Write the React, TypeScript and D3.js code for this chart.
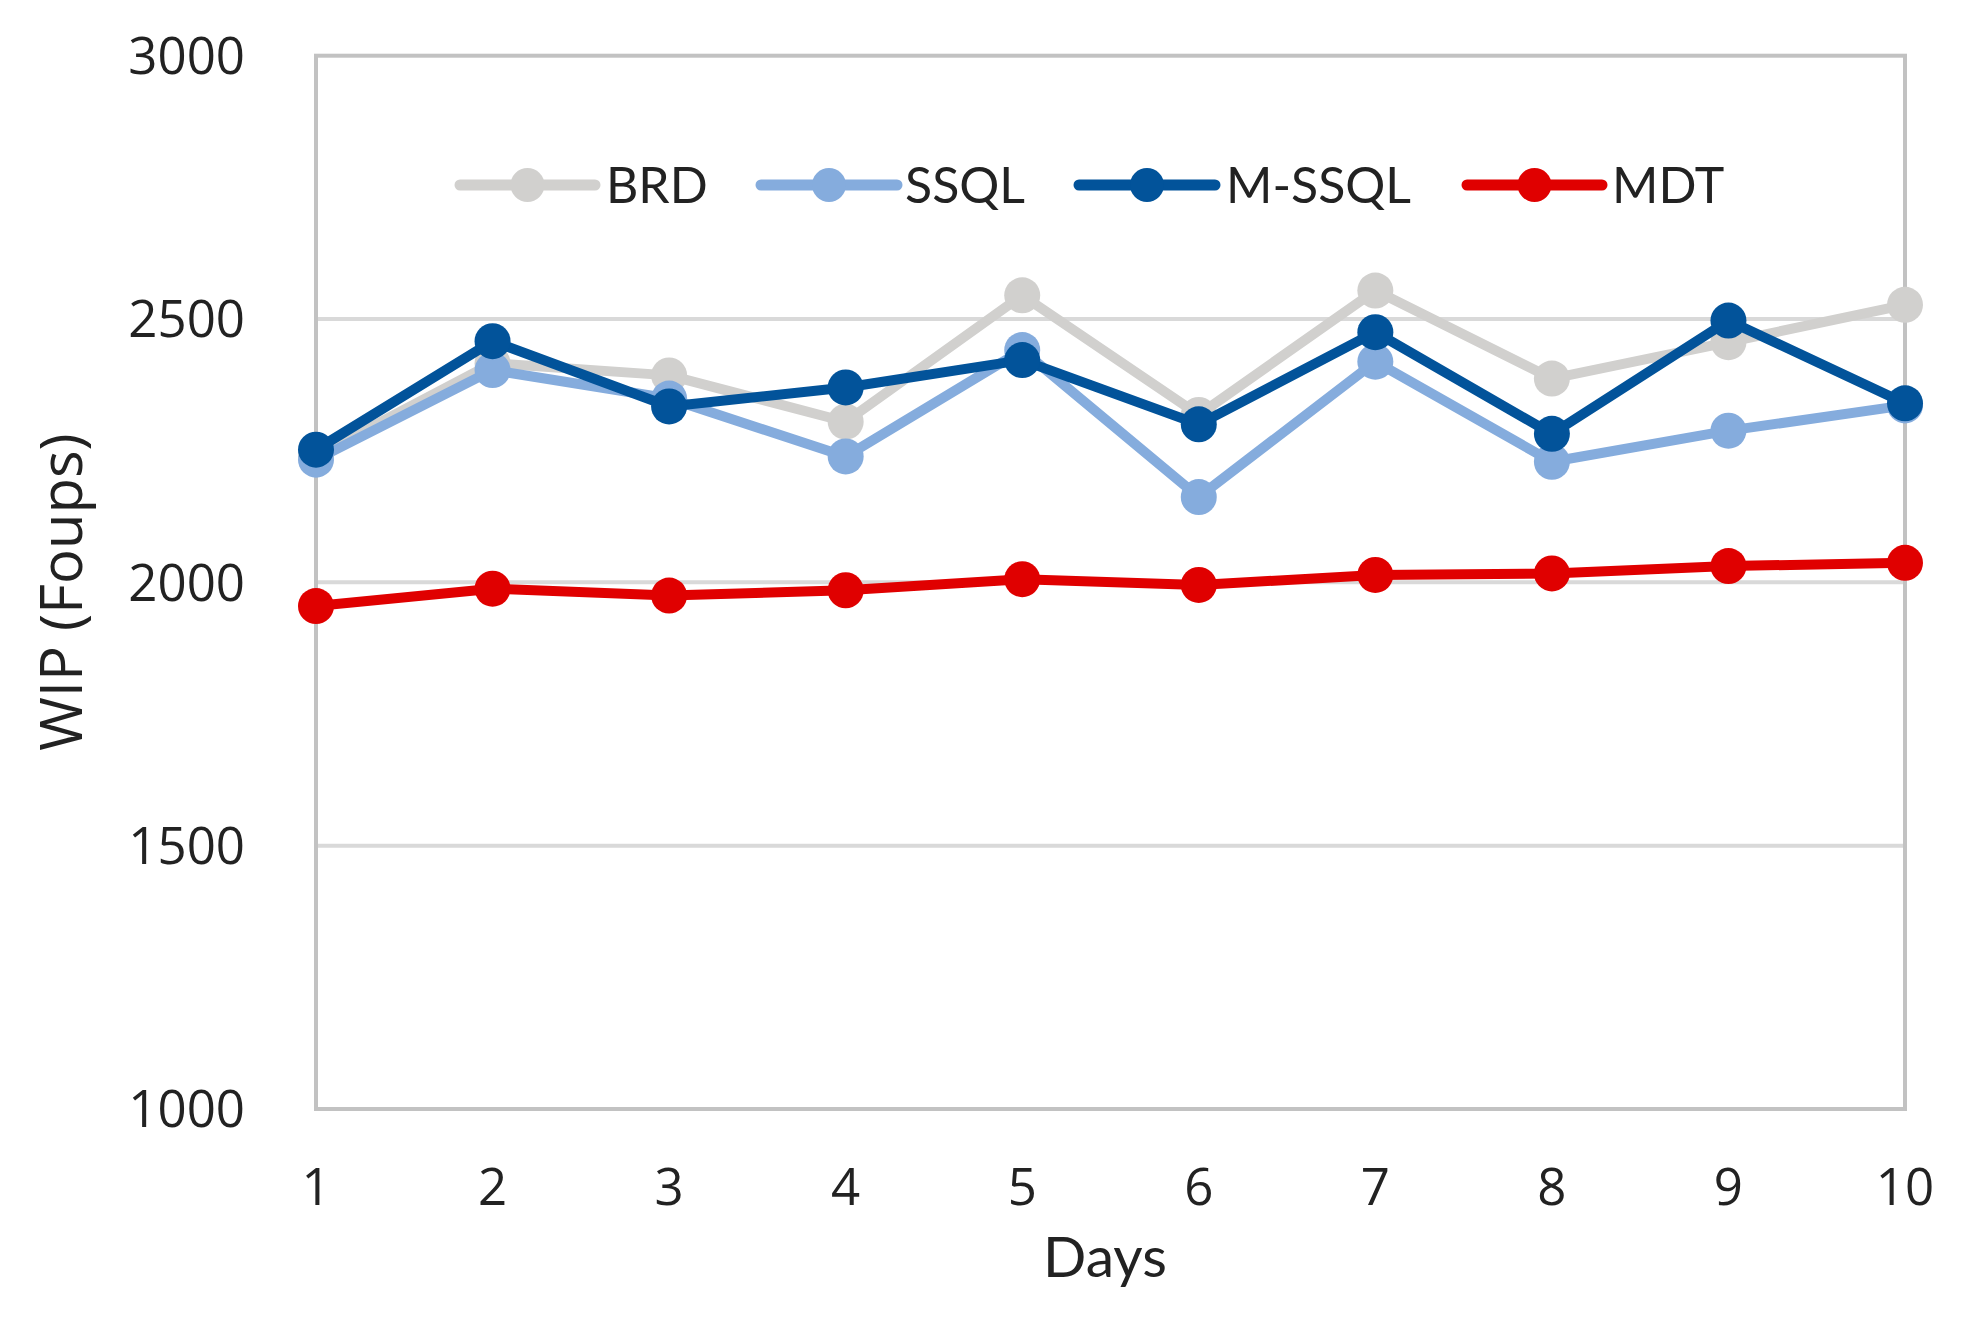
import React from "react";
import * as d3 from "d3";

const days = [1, 2, 3, 4, 5, 6, 7, 8, 9, 10];
const brd = [2240, 2416, 2393, 2305, 2545, 2318, 2554, 2387, 2456, 2527];
const ssql = [2233, 2403, 2349, 2239, 2441, 2162, 2419, 2229, 2288, 2336];
const mssql = [2252, 2458, 2334, 2370, 2422, 2300, 2475, 2282, 2497, 2340];
const mdt = [1955, 1988, 1975, 1985, 2006, 1995, 2014, 2017, 2031, 2037];
const yTicks = [1000, 1500, 2000, 2500, 3000];
const seriesNames = ["BRD", "SSQL", "M-SSQL", "MDT"];
const seriesColors = ["#d1d0ce", "#85acdd", "#02539a", "#e00000"];

const W = 1961;
const H = 1318;
const left = 316;
const right = 1905;
const top = 55.7;
const bottom = 1109;

export default function App() {
  const x = d3.scaleLinear().domain([1, 10]).range([left, right]);
  const y = d3.scaleLinear().domain([1000, 3000]).range([bottom, top]);
  const series = [brd, ssql, mssql, mdt];
  const line = d3
    .line<number>()
    .x((_, i) => x(days[i]))
    .y((v) => y(v));

  const legendItems = [
    { lineX0: 460, lineX1: 595, textX: 606 },
    { lineX0: 761, lineX1: 897, textX: 905 },
    { lineX0: 1079, lineX1: 1215, textX: 1226 },
    { lineX0: 1467, lineX1: 1602, textX: 1612 },
  ];
  const legendY = 185;

  return (
    <svg
      width={W}
      height={H}
      style={{ position: "absolute", left: 0, top: 0, background: "#fff" }}
    >
      <rect x={0} y={0} width={W} height={H} fill="#fff" />
      {yTicks
        .filter((t) => t !== 1000 && t !== 3000)
        .map((t) => (
          <line
            key={t}
            x1={left}
            x2={right}
            y1={y(t)}
            y2={y(t)}
            stroke="#d9d9d9"
            strokeWidth={4}
          />
        ))}
      <rect
        x={left}
        y={top}
        width={right - left}
        height={bottom - top}
        fill="none"
        stroke="#c2c2c2"
        strokeWidth={4}
      />
      {yTicks.map((t) => (
        <text
          key={t}
          x={245}
          y={y(t)}
          dy="0.36em"
          textAnchor="end"
          fontFamily="'Open Sans', sans-serif"
          fontSize={51}
          fill="#222"
        >
          {t}
        </text>
      ))}
      {days.map((d) => (
        <text
          key={d}
          x={x(d)}
          y={1205}
          textAnchor="middle"
          fontFamily="'Open Sans', sans-serif"
          fontSize={51}
          fill="#222"
        >
          {d}
        </text>
      ))}
      <text
        x={1105}
        y={1277}
        textAnchor="middle"
        fontFamily="Lato, sans-serif"
        fontSize={57}
        fill="#222"
      >
        Days
      </text>
      <text
        transform={`translate(82, 592) rotate(-90)`}
        textAnchor="middle"
        fontFamily="'Open Sans', sans-serif"
        fontSize={58}
        fill="#222"
      >
        WIP (Foups)
      </text>
      {series.map((s, i) => (
        <g key={seriesNames[i]}>
          <path
            d={line(s) || ""}
            fill="none"
            stroke={seriesColors[i]}
            strokeWidth={10}
            strokeLinejoin="round"
          />
          {s.map((v, j) => (
            <circle
              key={j}
              cx={x(days[j])}
              cy={y(v)}
              r={18}
              fill={seriesColors[i]}
            />
          ))}
        </g>
      ))}
      {legendItems.map((it, i) => (
        <g key={seriesNames[i]}>
          <line
            x1={it.lineX0}
            x2={it.lineX1}
            y1={legendY}
            y2={legendY}
            stroke={seriesColors[i]}
            strokeWidth={11}
            strokeLinecap="round"
          />
          <circle
            cx={(it.lineX0 + it.lineX1) / 2}
            cy={legendY}
            r={17}
            fill={seriesColors[i]}
          />
          <text
            x={it.textX}
            y={legendY + 18}
            fontFamily="Lato, sans-serif"
            fontSize={50}
            fill="#222"
          >
            {seriesNames[i]}
          </text>
        </g>
      ))}
    </svg>
  );
}
